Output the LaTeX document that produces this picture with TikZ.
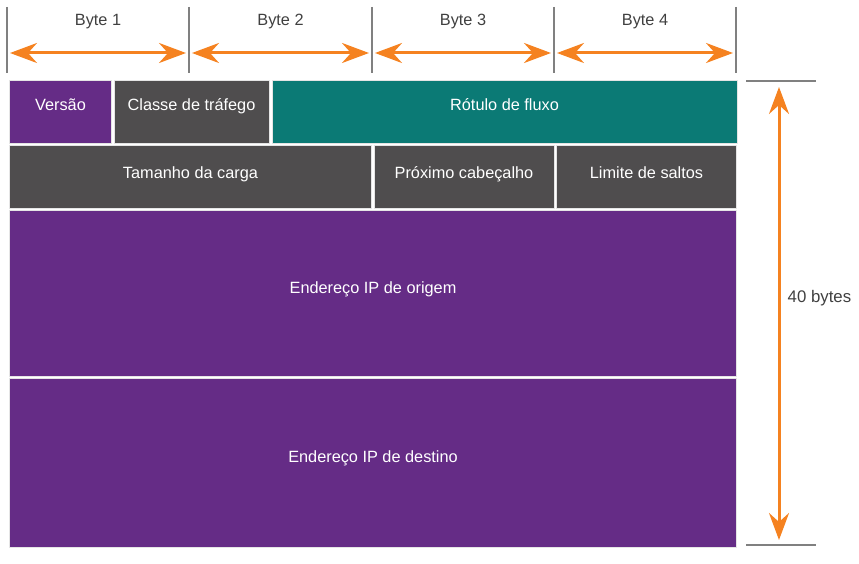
\documentclass[tikz,border=0pt]{standalone}
\usepackage{fontspec}
\setmainfont{Liberation Sans}
\usetikzlibrary{arrows.meta,calc}

\definecolor{ipurple}{RGB}{101,44,134}
\definecolor{igray}{RGB}{79,77,78}
\definecolor{iteal}{RGB}{11,122,117}
\definecolor{iorange}{RGB}{245,130,32}
\definecolor{itick}{RGB}{128,128,128}

\tikzset{
    field/.style={draw=gray!20, line width=1pt, anchor=north west, inner sep=0pt},
    lbl/.style={white, font=\fontsize{16.3}{19}\selectfont, anchor=base, inner sep=0pt},
    span/.style={iorange, line width=3pt, {Stealth[length=27pt,width=20pt,inset=9pt]}-{Stealth[length=27pt,width=20pt,inset=9pt]}},
    tick/.style={itick, line width=1.6pt}
}

\begin{document}
\begin{tikzpicture}[x=1pt, y=-1pt]
        \useasboundingbox (0,0) rectangle (859,564);

        % --- バイトの目盛り ---
        \foreach \x [count=\k] in {7,189,372,554,736} {
            \coordinate (t\k) at (\x,7);
            \coordinate (b\k) at (\x,73);
            \draw[tick] (t\k) -- (b\k);
        }
        % バイトの矢印とラベル
        \foreach \i/\j in {1/2, 2/3, 3/4, 4/5} {
            \coordinate (al\i) at ([xshift=3pt]t\i |- 0,53);
            \coordinate (ar\i) at ([xshift=-3pt]t\j |- 0,53);
            \draw[span] (al\i) -- (ar\i);
            \node[anchor=base, inner sep=0pt, text=black!75, font=\fontsize{16.3}{19}\selectfont] (byte\i) at ($(t\i)!0.5!(t\j) + (0,19)$) {Byte \i};
        }

        % --- 1行目 ---
        \node[field, fill=ipurple, minimum width=102, minimum height=63] (versao) at (9,80) {};
        \node[field, fill=igray, minimum width=155, minimum height=63] (classe) at (113.5,80) {};
        \node[field, fill=iteal, minimum width=465, minimum height=63] (rotulo) at (271.5,80) {};

        % --- 2行目 ---
        \node[field, fill=igray, minimum width=362, minimum height=63] (tamanho) at (9,145.5) {};
        \node[field, fill=igray, minimum width=180, minimum height=63] (proximo) at (373.5,145.5) {};
        \node[field, fill=igray, minimum width=180, minimum height=63] (limite) at (556,145.5) {};

        % --- アドレス ---
        \node[field, fill=ipurple, minimum width=727, minimum height=165] (origem) at (9,210.5) {};
        \node[field, fill=ipurple, minimum width=727, minimum height=169] (destino) at (9,377.5) {};

        % --- フィールド名 ---
        \foreach \f/\dy/\txt in {versao/1.5/Versão, classe/1.5/Classe de tráfego, rotulo/1.5/Rótulo de fluxo,
                tamanho/-1.5/Tamanho da carga, proximo/-1.5/Próximo cabeçalho, limite/-1.5/Limite de saltos,
                origem/0.5/Endereço IP de origem, destino/0.5/Endereço IP de destino} {
            \node[lbl] (\f-txt) at ([yshift=\dy pt]\f.center) {\txt};
        }

        % --- 全体の長さ ---
        \coordinate (hl) at (746,81);
        \coordinate (hr) at (816,81);
        \coordinate (ll) at (746,545);
        \coordinate (lr) at (816,545);
        \draw[tick] (hl) -- (hr);
        \draw[tick] (ll) -- (lr);
        \coordinate (vt) at (779,87);
        \coordinate (vb) at (779,540);
        \draw[span] (vt) -- (vb);
        \node[anchor=base west, inner sep=0pt, text=black!75, font=\fontsize{16.8}{19}\selectfont] (total) at (787.5,302.5) {40 bytes};

    \end{tikzpicture}
\end{document}
